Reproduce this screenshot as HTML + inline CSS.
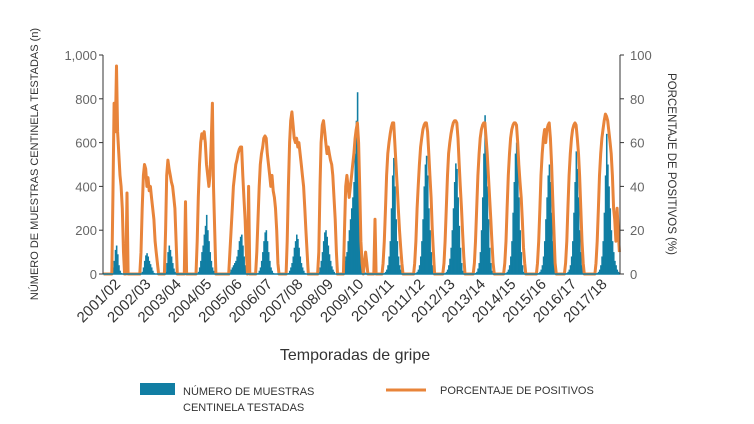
<!DOCTYPE html>
<html><head><meta charset="utf-8"><style>
body{margin:0;background:#fff;}
svg{display:block;font-family:"Liberation Sans",sans-serif;}
</style></head><body>
<svg id="chart" width="754" height="424" viewBox="0 0 754 424">
<g id="bars"></g>
<g id="lines"></g>
<g id="axes"></g>
<text x="355" y="360" font-size="16" fill="#333" text-anchor="middle">Temporadas de gripe</text>
<text transform="translate(38,164) rotate(-90)" font-size="11" fill="#333" text-anchor="middle">NÚMERO DE MUESTRAS  CENTINELA TESTADAS (n)</text>
<text transform="translate(668,164) rotate(90)" font-size="11.5" fill="#333" text-anchor="middle">PORCENTAJE DE POSITIVOS (%)</text>
<g>
<rect x="140" y="383" width="35" height="12" fill="#117ea3"/>
<text x="183" y="395" font-size="11" fill="#333">NÚMERO DE MUESTRAS</text>
<text x="183" y="411" font-size="11" fill="#333">CENTINELA TESTADAS</text>
<line x1="386" y1="390" x2="426" y2="390" stroke="#e8843a" stroke-width="3"/>
<text x="440" y="394" font-size="11" fill="#333">PORCENTAJE DE POSITIVOS</text>
</g>
</svg>
<script>
const seasons=["2001/02","2002/03","2003/04","2004/05","2005/06","2006/07","2007/08","2008/09","2009/10","2010/11","2011/12","2012/13","2013/14","2014/15","2015/16","2016/17","2017/18"];
const leftTicks=[0,200,400,600,800,1000];
const leftTickLabels=["0","200","400","600","800","1,000"];
const rightTicks=[0,20,40,60,80,100];
const pctBySeason=[
[0,0,0,0,0,0,0,0,35,78,65,95,65,55,45,40,30,10,0,0,37,0,0,0,0,0],
[0,0,0,0,0,0,10,30,45,50,48,40,44,38,40,35,30,25,15,10,5,0,0,0,0,0],
[0,20,45,52,48,45,42,40,35,30,15,0,0,0,0,0,0,0,33,0,0,0,0,0,0,0],
[0,0,15,35,50,60,64,62,65,60,50,45,40,45,60,78,40,20,0,0,0,0,0,0,0,0],
[0,0,0,0,10,20,30,40,45,50,52,55,57,58,58,45,35,25,10,0,40,0,0,0,0,0],
[0,10,25,40,50,55,58,62,63,62,55,50,45,40,45,38,35,30,20,5,0,0,0,0,0,0],
[0,15,40,60,70,74,68,62,60,62,58,60,55,50,45,40,30,20,10,0,0,0,0,0,0,0],
[0,0,10,40,60,68,70,65,60,55,58,55,52,50,45,35,25,10,0,0,0,0,0,0,20,40],
[45,40,35,40,45,50,55,62,66,69,60,40,15,5,0,5,10,5,0,0,0,0,0,0,25,0],
[0,0,0,0,0,5,15,30,45,55,60,64,67,69,69,60,50,40,30,20,12,5,0,0,0,0],
[0,0,0,0,0,0,5,15,30,40,50,58,62,66,68,69,69,65,55,45,35,20,10,0,0,0],
[0,0,0,0,0,5,15,30,45,55,60,64,67,69,70,70,69,62,50,40,30,18,8,0,0,0],
[0,0,0,0,0,5,15,30,45,55,62,66,68,69,69,62,55,45,35,25,15,5,0,0,0,0],
[0,0,0,0,0,5,15,30,45,55,62,66,68,69,69,68,60,50,42,35,25,12,5,0,0,0],
[0,0,0,0,0,0,0,5,15,30,45,55,62,66,60,66,68,69,62,50,35,20,5,0,0,0],
[0,0,0,0,0,5,15,30,45,55,62,66,68,69,68,62,55,45,30,15,5,0,0,0,0,0],
[0,0,0,0,0,5,15,30,45,55,62,66,70,73,72,70,65,60,55,45,30,25,15,30,20,10]];
const samplesBySeason=[
[0,0,0,0,0,0,0,10,30,60,110,130,90,40,15,5,0,0,0,0,0,0,0,0,0,0],
[0,0,0,0,0,0,0,10,30,60,85,95,80,60,45,30,15,5,0,0,0,0,0,0,0,0],
[0,10,50,100,130,110,80,50,25,10,0,0,0,0,0,0,0,0,0,0,0,0,0,0,0,0],
[0,0,0,10,30,60,100,130,180,220,270,200,150,100,60,30,15,5,0,0,0,0,0,0,0,0],
[0,0,0,5,10,20,30,40,50,60,80,110,150,170,180,130,80,40,15,5,0,0,0,0,0,0],
[0,0,5,15,30,60,100,150,190,200,150,100,60,30,15,5,0,0,0,0,0,0,0,0,0,0],
[0,0,5,15,30,50,80,120,150,180,160,120,80,50,30,15,5,0,0,0,0,0,0,0,0,0],
[0,0,10,30,60,100,150,190,200,170,130,90,60,35,20,10,0,0,0,0,0,0,0,0,60,80],
[100,150,200,250,300,350,420,550,700,830,600,300,100,40,20,10,5,0,0,0,0,0,0,0,0,0],
[0,0,0,0,0,0,5,10,20,40,80,150,300,450,530,400,250,150,80,40,20,5,0,0,0,0],
[0,0,0,0,0,0,0,5,10,20,40,80,150,250,400,500,540,450,300,200,100,40,10,0,0,0],
[0,0,0,0,0,0,5,10,20,40,70,120,200,300,420,505,480,350,220,120,50,15,0,0,0,0],
[0,0,0,0,0,0,5,10,25,50,100,200,350,550,725,600,400,250,120,50,15,0,0,0,0,0],
[0,0,0,0,0,0,5,10,20,40,80,150,280,420,550,600,500,350,200,100,40,10,0,0,0,0],
[0,0,0,0,0,0,0,0,5,10,20,40,80,150,250,350,450,500,420,280,150,60,15,0,0,0],
[0,0,0,0,0,0,5,10,20,40,80,150,280,420,560,480,350,200,100,40,10,0,0,0,0,0],
[0,0,0,0,0,0,5,10,20,40,80,150,280,450,640,500,400,300,200,150,100,60,40,20,10,5]];

const NS="http://www.w3.org/2000/svg";
const X0=103,X1=620,Y0=274,Y1=55;
const segW=(X1-X0)/seasons.length;
function xPos(s,k,n){return X0+(s+k/n)*segW;}
function yLeft(v){return Y0-(v/1000)*(Y0-Y1);}
function yRight(v){return Y0-(v/100)*(Y0-Y1);}
function mk(t,a){const e=document.createElementNS(NS,t);for(const k in a)e.setAttribute(k,a[k]);return e;}
const gb=document.getElementById('bars');
samplesBySeason.forEach((arr,s)=>{arr.forEach((v,k)=>{
 if(v<=0)return;
 const x=xPos(s,k,arr.length),w=segW/arr.length;
 const r=mk('rect',{x:x,y:yLeft(v),width:w+0.4,height:Y0-yLeft(v),fill:'#117ea3'});
 
 
 gb.appendChild(r);});});
const pts=[];
pctBySeason.forEach((arr,s)=>arr.forEach((v,k)=>pts.push([xPos(s,k+0.5,arr.length),yRight(v)])));
const pl=mk('polyline',{points:pts.map(p=>p[0].toFixed(1)+','+p[1].toFixed(1)).join(' '),fill:'none',stroke:'#e8843a','stroke-width':3,'stroke-linejoin':'round'});


document.getElementById('lines').appendChild(pl);
const ga=document.getElementById('axes');
ga.appendChild(mk('line',{x1:X0,y1:Y0,x2:X1,y2:Y0,stroke:'#117ea3','stroke-width':1.5}));
ga.appendChild(mk('line',{x1:X0,y1:Y1,x2:X0,y2:Y0,stroke:'#333','stroke-width':1}));
ga.appendChild(mk('line',{x1:X1,y1:Y1,x2:X1,y2:Y0,stroke:'#333','stroke-width':1}));
leftTicks.forEach((v,i)=>{const y=yLeft(v);
 ga.appendChild(mk('line',{x1:X0-4,y1:y,x2:X0,y2:y,stroke:'#333'}));
 const t=mk('text',{x:X0-6,y:y+5,'font-size':13,fill:'#666','text-anchor':'end'});t.textContent=leftTickLabels[i];
 
 
 ga.appendChild(t);});
rightTicks.forEach(v=>{const y=yRight(v);
 ga.appendChild(mk('line',{x1:X1,y1:y,x2:X1+4,y2:y,stroke:'#333'}));
 const t=mk('text',{x:X1+10,y:y+5,'font-size':13,fill:'#666'});t.textContent=v;
 
 
 ga.appendChild(t);});
seasons.forEach((s,i)=>{const x=xPos(i,0.6,1);
 const t=mk('text',{transform:'translate('+x+',285) rotate(-45)','font-size':15,fill:'#333','text-anchor':'end'});t.textContent=s;
 
 
 ga.appendChild(t);});
</script>
</body></html>
